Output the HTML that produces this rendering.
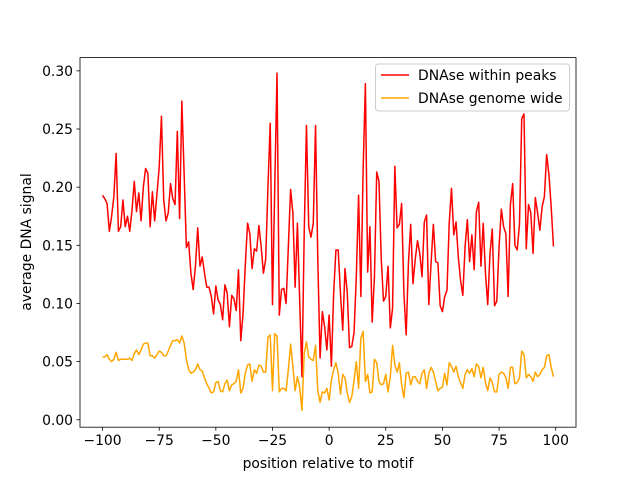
<!DOCTYPE html>
<html><head><meta charset="utf-8"><style>
body{margin:0;background:#fff}
svg{display:block;font-family:"DejaVu Sans","Liberation Sans",sans-serif}
</style></head><body>
<svg id="chart" width="640" height="480" viewBox="0 0 640 480" xmlns="http://www.w3.org/2000/svg">
<rect width="640" height="480" fill="#fff"/>
<g id="series"></g>
<rect x="80" y="57.6" width="496" height="369.6" fill="none" stroke="#000" stroke-width="0.8"/>
<g id="xticks"></g>
<g id="yticks"></g>
<text x="328" y="468" font-size="13.9" text-anchor="middle">position relative to motif</text>
<text transform="translate(31,242) rotate(-90)" font-size="13.9" text-anchor="middle">average DNA signal</text>
<g>
<rect x="375.5" y="64" width="194" height="47" fill="#fff" stroke="#ccc" stroke-width="1" rx="3"/>
<g>
<line x1="381" y1="75" x2="409" y2="75" stroke="#ff0000" stroke-width="1.5"/>
<text x="418" y="80" font-size="13.9">DNAse within peaks</text></g>
<g>
<line x1="381" y1="98" x2="409" y2="98" stroke="#ffa500" stroke-width="1.5"/>
<text x="418" y="103" font-size="13.9">DNAse genome wide</text></g>
</g>
</svg>
<script>
const xStart = -100;
const peaksValues = [0.193,0.190,0.186,0.162,0.175,0.192,0.229,0.162,0.166,0.189,0.166,0.175,0.162,0.180,0.205,0.179,0.195,0.171,0.200,0.216,0.212,0.166,0.196,0.171,0.194,0.217,0.261,0.189,0.171,0.178,0.203,0.190,0.185,0.248,0.173,0.274,0.212,0.148,0.153,0.126,0.112,0.132,0.165,0.132,0.140,0.126,0.114,0.114,0.106,0.091,0.115,
0.103,0.099,0.086,0.116,0.109,0.080,0.107,0.104,0.094,0.129,0.068,0.091,0.133,0.169,0.160,0.130,0.147,0.145,0.167,0.149,0.126,0.138,0.200,0.255,0.099,0.200,0.298,0.090,0.112,0.113,0.100,0.149,0.198,0.178,0.114,0.169,0.103,0.037,0.160,0.253,0.166,0.157,0.169,0.253,0.138,0.053,0.093,0.080,0.060,0.090,
0.046,0.109,0.146,0.146,0.109,0.077,0.130,0.109,0.062,0.063,0.075,0.123,0.193,0.106,0.215,0.289,0.127,0.166,0.084,0.123,0.213,0.205,0.138,0.102,0.106,0.132,0.079,0.096,0.218,0.165,0.168,0.186,0.109,0.073,0.135,0.168,0.117,0.138,0.154,0.143,0.123,0.170,0.176,0.099,0.135,0.168,0.136,0.135,0.098,0.093,0.106,
0.111,0.169,0.199,0.159,0.170,0.140,0.120,0.107,0.149,0.172,0.136,0.159,0.129,0.179,0.187,0.132,0.169,0.126,0.099,0.143,0.164,0.098,0.102,0.149,0.181,0.166,0.160,0.106,0.185,0.203,0.150,0.146,0.168,0.259,0.263,0.147,0.185,0.178,0.143,0.191,0.178,0.163,0.183,0.192,0.228,0.211,0.183,0.149];
const genomeValues = [0.054,0.054,0.056,0.052,0.050,0.052,0.058,0.051,0.052,0.052,0.052,0.052,0.053,0.051,0.057,0.060,0.056,0.060,0.065,0.066,0.066,0.055,0.055,0.053,0.056,0.059,0.058,0.055,0.055,0.059,0.064,0.068,0.068,0.069,0.066,0.072,0.066,0.052,0.043,0.040,0.041,0.043,0.048,0.043,0.042,0.036,0.031,0.027,0.023,0.024,0.032,
0.033,0.025,0.024,0.031,0.034,0.025,0.030,0.031,0.033,0.043,0.023,0.027,0.040,0.047,0.048,0.033,0.043,0.040,0.047,0.046,0.041,0.041,0.071,0.073,0.025,0.074,0.072,0.024,0.027,0.027,0.025,0.043,0.065,0.046,0.025,0.037,0.028,0.008,0.057,0.067,0.054,0.052,0.051,0.064,0.025,0.015,0.024,0.023,0.027,0.017,
0.034,0.043,0.049,0.040,0.022,0.039,0.036,0.023,0.015,0.020,0.034,0.050,0.027,0.070,0.076,0.033,0.039,0.023,0.024,0.052,0.049,0.033,0.030,0.031,0.039,0.024,0.037,0.064,0.047,0.041,0.049,0.030,0.019,0.040,0.041,0.030,0.037,0.037,0.033,0.031,0.040,0.043,0.027,0.040,0.045,0.041,0.033,0.025,0.027,0.028,0.040,
0.030,0.049,0.046,0.041,0.046,0.037,0.032,0.027,0.039,0.043,0.040,0.044,0.037,0.048,0.046,0.036,0.045,0.032,0.025,0.036,0.032,0.024,0.024,0.039,0.041,0.040,0.036,0.027,0.045,0.045,0.031,0.032,0.036,0.059,0.056,0.036,0.039,0.037,0.033,0.041,0.037,0.039,0.043,0.045,0.055,0.056,0.045,0.037];
const xTickValues = [-100,-75,-50,-25,0,25,50,75,100];
const yTickValues = [0.00,0.05,0.10,0.15,0.20,0.25,0.30];

const NS = "http://www.w3.org/2000/svg";
const X0 = 80, X1 = 576, Y0 = 427.2, Y1 = 57.6;
const xmin = -109.95, xmax = 108.95, ymin = -0.0064, ymax = 0.3114;
function sx(v){ return X0 + (v - xmin) / (xmax - xmin) * (X1 - X0); }
function sy(v){ return Y0 - (v - ymin) / (ymax - ymin) * (Y0 - Y1); }

function drawSeries(vals, color, name){
  const d = vals.map((v,i)=> (i? "L":"M") + sx(xStart+i).toFixed(2) + " " + sy(v).toFixed(2)).join(" ");
  const p = document.createElementNS(NS, "path");
  p.setAttribute("d", d);
  p.setAttribute("fill", "none");
  p.setAttribute("stroke", color);
  p.setAttribute("stroke-width", "1.5");
  p.setAttribute("stroke-linejoin", "round");
  
  
  document.getElementById("series").appendChild(p);
}
drawSeries(peaksValues, "#ff0000", "line-within-peaks");
drawSeries(genomeValues, "#ffa500", "line-genome-wide");

const xg = document.getElementById("xticks");
xTickValues.forEach(v=>{
  const x = sx(v);
  const l = document.createElementNS(NS, "line");
  l.setAttribute("x1", x); l.setAttribute("x2", x);
  l.setAttribute("y1", Y0); l.setAttribute("y2", Y0 + 3.5);
  l.setAttribute("stroke", "#000"); l.setAttribute("stroke-width", "0.8");
  
  
  xg.appendChild(l);
  const t = document.createElementNS(NS, "text");
  t.setAttribute("x", x); t.setAttribute("y", Y0 + 18);
  t.setAttribute("font-size", "13.9"); t.setAttribute("text-anchor", "middle");
  t.textContent = v < 0 ? "\u2212" + Math.abs(v) : String(v);
  
  
  xg.appendChild(t);
});
const yg = document.getElementById("yticks");
yTickValues.forEach(v=>{
  const y = sy(v);
  const l = document.createElementNS(NS, "line");
  l.setAttribute("x1", X0 - 3.5); l.setAttribute("x2", X0);
  l.setAttribute("y1", y); l.setAttribute("y2", y);
  l.setAttribute("stroke", "#000"); l.setAttribute("stroke-width", "0.8");
  
  
  yg.appendChild(l);
  const t = document.createElementNS(NS, "text");
  t.setAttribute("x", X0 - 7); t.setAttribute("y", y + 5);
  t.setAttribute("font-size", "13.9"); t.setAttribute("text-anchor", "end");
  t.textContent = v.toFixed(2);
  
  
  yg.appendChild(t);
});
</script>
</body></html>
